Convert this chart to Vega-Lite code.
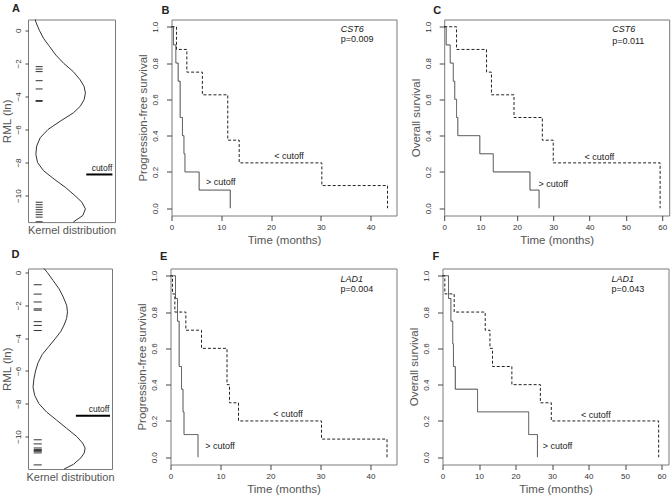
{
  "$schema": "https://vega.github.io/schema/vega-lite/v6.json",
  "background": "white",
  "padding": {"left": 1, "top": 1.5, "right": 1, "bottom": 2},
  "datasets": {
    "km": [
      {"p": "B", "g": "hi", "t": 0, "s": 1}, {"p": "B", "g": "hi", "t": 0.4, "s": 0.9}, {"p": "B", "g": "hi", "t": 0.87, "s": 0.8}, {"p": "B", "g": "hi", "t": 1.34, "s": 0.7}, {"p": "B", "g": "hi", "t": 1.74, "s": 0.5}, {"p": "B", "g": "hi", "t": 2.2, "s": 0.4}, {"p": "B", "g": "hi", "t": 2.5, "s": 0.3}, {"p": "B", "g": "hi", "t": 2.7, "s": 0.2}, {"p": "B", "g": "hi", "t": 5.55, "s": 0.1}, {"p": "B", "g": "hi", "t": 11.8, "s": 0},
      {"p": "B", "g": "lo", "t": 0, "s": 1}, {"p": "B", "g": "lo", "t": 1.0, "s": 0.875}, {"p": "B", "g": "lo", "t": 3.08, "s": 0.75}, {"p": "B", "g": "lo", "t": 6.2, "s": 0.625}, {"p": "B", "g": "lo", "t": 11.3, "s": 0.375}, {"p": "B", "g": "lo", "t": 13.6, "s": 0.25}, {"p": "B", "g": "lo", "t": 30.2, "s": 0.125}, {"p": "B", "g": "lo", "t": 43.4, "s": 0},
      {"p": "C", "g": "hi", "t": 0, "s": 1}, {"p": "C", "g": "hi", "t": 0.55, "s": 0.9}, {"p": "C", "g": "hi", "t": 1.65, "s": 0.8}, {"p": "C", "g": "hi", "t": 2.5, "s": 0.7}, {"p": "C", "g": "hi", "t": 2.9, "s": 0.6}, {"p": "C", "g": "hi", "t": 3.4, "s": 0.5}, {"p": "C", "g": "hi", "t": 3.75, "s": 0.4}, {"p": "C", "g": "hi", "t": 9.8, "s": 0.3}, {"p": "C", "g": "hi", "t": 13.5, "s": 0.2}, {"p": "C", "g": "hi", "t": 23.6, "s": 0.1}, {"p": "C", "g": "hi", "t": 26.1, "s": 0},
      {"p": "C", "g": "lo", "t": 0, "s": 1}, {"p": "C", "g": "lo", "t": 3.4, "s": 0.875}, {"p": "C", "g": "lo", "t": 11.65, "s": 0.75}, {"p": "C", "g": "lo", "t": 13.0, "s": 0.625}, {"p": "C", "g": "lo", "t": 19.2, "s": 0.5}, {"p": "C", "g": "lo", "t": 27.0, "s": 0.375}, {"p": "C", "g": "lo", "t": 30.0, "s": 0.25}, {"p": "C", "g": "lo", "t": 59.4, "s": 0},
      {"p": "E", "g": "hi", "t": 0, "s": 1}, {"p": "E", "g": "hi", "t": 1.0, "s": 0.875}, {"p": "E", "g": "hi", "t": 1.4, "s": 0.75}, {"p": "E", "g": "hi", "t": 1.73, "s": 0.5}, {"p": "E", "g": "hi", "t": 2.2, "s": 0.375}, {"p": "E", "g": "hi", "t": 2.5, "s": 0.25}, {"p": "E", "g": "hi", "t": 2.7, "s": 0.125}, {"p": "E", "g": "hi", "t": 5.5, "s": 0},
      {"p": "E", "g": "lo", "t": 0, "s": 1}, {"p": "E", "g": "lo", "t": 0.4, "s": 0.9}, {"p": "E", "g": "lo", "t": 0.87, "s": 0.8}, {"p": "E", "g": "lo", "t": 3.07, "s": 0.7}, {"p": "E", "g": "lo", "t": 6.2, "s": 0.6}, {"p": "E", "g": "lo", "t": 11.3, "s": 0.4}, {"p": "E", "g": "lo", "t": 11.8, "s": 0.3}, {"p": "E", "g": "lo", "t": 13.6, "s": 0.2}, {"p": "E", "g": "lo", "t": 30.2, "s": 0.1}, {"p": "E", "g": "lo", "t": 43.3, "s": 0},
      {"p": "F", "g": "hi", "t": 0, "s": 1}, {"p": "F", "g": "hi", "t": 1.65, "s": 0.875}, {"p": "F", "g": "hi", "t": 2.3, "s": 0.75}, {"p": "F", "g": "hi", "t": 2.8, "s": 0.625}, {"p": "F", "g": "hi", "t": 3.0, "s": 0.5}, {"p": "F", "g": "hi", "t": 3.5, "s": 0.375}, {"p": "F", "g": "hi", "t": 9.6, "s": 0.25}, {"p": "F", "g": "hi", "t": 23.6, "s": 0.125}, {"p": "F", "g": "hi", "t": 26.0, "s": 0},
      {"p": "F", "g": "lo", "t": 0, "s": 1}, {"p": "F", "g": "lo", "t": 0.64, "s": 0.9}, {"p": "F", "g": "lo", "t": 3.2, "s": 0.8}, {"p": "F", "g": "lo", "t": 11.7, "s": 0.7}, {"p": "F", "g": "lo", "t": 13.0, "s": 0.6}, {"p": "F", "g": "lo", "t": 13.7, "s": 0.5}, {"p": "F", "g": "lo", "t": 19.0, "s": 0.4}, {"p": "F", "g": "lo", "t": 26.8, "s": 0.3}, {"p": "F", "g": "lo", "t": 29.8, "s": 0.2}, {"p": "F", "g": "lo", "t": 59.2, "s": 0}
    ],
    "txt": [
      {"p": "B", "k": "c", "t": 23.6, "s": 0.29, "label": "< cutoff"}, {"p": "B", "k": "c", "t": 9.9, "s": 0.143, "label": "> cutoff"}, {"p": "B", "k": "g", "t": 34.0, "s": 0.99, "label": "CST6"}, {"p": "B", "k": "p", "t": 34.0, "s": 0.93, "label": "p=0.009"},
      {"p": "C", "k": "c", "t": 42.7, "s": 0.285, "label": "< cutoff"}, {"p": "C", "k": "c", "t": 30.0, "s": 0.134, "label": "> cutoff"}, {"p": "C", "k": "g", "t": 46.2, "s": 0.99, "label": "CST6"}, {"p": "C", "k": "p", "t": 46.2, "s": 0.92, "label": "p=0.011"},
      {"p": "E", "k": "c", "t": 23.5, "s": 0.237, "label": "< cutoff"}, {"p": "E", "k": "c", "t": 9.9, "s": 0.064, "label": "> cutoff"}, {"p": "E", "k": "g", "t": 34.0, "s": 0.98, "label": "LAD1"}, {"p": "E", "k": "p", "t": 34.0, "s": 0.925, "label": "p=0.004"},
      {"p": "F", "k": "c", "t": 42.0, "s": 0.235, "label": "< cutoff"}, {"p": "F", "k": "c", "t": 31.5, "s": 0.064, "label": "> cutoff"}, {"p": "F", "k": "g", "t": 46.3, "s": 0.98, "label": "LAD1"}, {"p": "F", "k": "p", "t": 46.3, "s": 0.926, "label": "p=0.043"}
    ],
    "kern": [
      {"p": "A", "v": 0.65, "d": 0.084}, {"p": "A", "v": 0.5, "d": 0.09}, {"p": "A", "v": 0, "d": 0.13}, {"p": "A", "v": -0.5, "d": 0.18}, {"p": "A", "v": -1, "d": 0.25}, {"p": "A", "v": -1.5, "d": 0.32}, {"p": "A", "v": -2, "d": 0.41}, {"p": "A", "v": -2.5, "d": 0.52}, {"p": "A", "v": -3, "d": 0.6}, {"p": "A", "v": -3.4, "d": 0.645}, {"p": "A", "v": -3.8, "d": 0.66}, {"p": "A", "v": -4.2, "d": 0.645}, {"p": "A", "v": -4.6, "d": 0.6}, {"p": "A", "v": -5, "d": 0.52}, {"p": "A", "v": -5.5, "d": 0.37}, {"p": "A", "v": -6, "d": 0.23}, {"p": "A", "v": -6.5, "d": 0.14}, {"p": "A", "v": -7, "d": 0.1}, {"p": "A", "v": -7.5, "d": 0.09}, {"p": "A", "v": -8, "d": 0.11}, {"p": "A", "v": -8.5, "d": 0.18}, {"p": "A", "v": -9, "d": 0.3}, {"p": "A", "v": -9.5, "d": 0.43}, {"p": "A", "v": -10, "d": 0.54}, {"p": "A", "v": -10.4, "d": 0.62}, {"p": "A", "v": -10.8, "d": 0.66}, {"p": "A", "v": -11.2, "d": 0.63}, {"p": "A", "v": -11.6, "d": 0.52},
      {"p": "D", "v": 0.24, "d": 0.19}, {"p": "D", "v": 0, "d": 0.23}, {"p": "D", "v": -0.5, "d": 0.3}, {"p": "D", "v": -1, "d": 0.37}, {"p": "D", "v": -1.5, "d": 0.42}, {"p": "D", "v": -2, "d": 0.46}, {"p": "D", "v": -2.4, "d": 0.47}, {"p": "D", "v": -2.8, "d": 0.46}, {"p": "D", "v": -3.2, "d": 0.43}, {"p": "D", "v": -3.6, "d": 0.39}, {"p": "D", "v": -4, "d": 0.33}, {"p": "D", "v": -4.5, "d": 0.25}, {"p": "D", "v": -5, "d": 0.17}, {"p": "D", "v": -5.5, "d": 0.12}, {"p": "D", "v": -6, "d": 0.09}, {"p": "D", "v": -6.5, "d": 0.07}, {"p": "D", "v": -7, "d": 0.06}, {"p": "D", "v": -7.5, "d": 0.08}, {"p": "D", "v": -8, "d": 0.13}, {"p": "D", "v": -8.5, "d": 0.22}, {"p": "D", "v": -9, "d": 0.34}, {"p": "D", "v": -9.5, "d": 0.46}, {"p": "D", "v": -10, "d": 0.58}, {"p": "D", "v": -10.4, "d": 0.65}, {"p": "D", "v": -10.7, "d": 0.68}, {"p": "D", "v": -11, "d": 0.67}, {"p": "D", "v": -11.3, "d": 0.63}, {"p": "D", "v": -11.7, "d": 0.54}, {"p": "D", "v": -11.98, "d": 0.43}
    ],
    "rug": [
      {"p": "A", "v": -2.2}, {"p": "A", "v": -2.35}, {"p": "A", "v": -2.5}, {"p": "A", "v": -3.05}, {"p": "A", "v": -3.55}, {"p": "A", "v": -4.25}, {"p": "A", "v": -4.3},
      {"p": "A", "v": -10.4}, {"p": "A", "v": -10.55}, {"p": "A", "v": -10.7}, {"p": "A", "v": -10.85}, {"p": "A", "v": -11.0}, {"p": "A", "v": -11.15}, {"p": "A", "v": -11.3}, {"p": "A", "v": -11.58},
      {"p": "D", "v": -0.75}, {"p": "D", "v": -1.32}, {"p": "D", "v": -1.8}, {"p": "D", "v": -2.22}, {"p": "D", "v": -2.3}, {"p": "D", "v": -3.0}, {"p": "D", "v": -3.23}, {"p": "D", "v": -3.54},
      {"p": "D", "v": -10.2}, {"p": "D", "v": -10.45}, {"p": "D", "v": -10.7}, {"p": "D", "v": -10.8}, {"p": "D", "v": -10.85}, {"p": "D", "v": -10.9}, {"p": "D", "v": -11.0}, {"p": "D", "v": -11.73}
    ],
    "cut": [
      {"p": "A", "v": -8.72}, {"p": "D", "v": -8.74}
    ]
  },
  "vconcat": [
    {
      "columns": 2, "align": "none", "spacing": 19.5,
      "concat": [
        {
          "width": 87, "height": 202.6,
          "title": {"text": "A", "offset": 4, "dx": -16},
          "layer": [
            {"data": {"name": "kern"}, "transform": [{"filter": "datum.p === 'A'"}],
             "mark": {"type": "line", "color": "#333", "strokeWidth": 1},
             "encoding": {
               "x": {"field": "d", "type": "quantitative", "scale": {"domain": [0, 1], "nice": false, "zero": false}, "axis": {"title": "Kernel distribution", "labels": false, "ticks": false, "domain": false, "titlePadding": 2, "titleFontSize": 11}},
               "y": {"field": "v", "type": "quantitative", "scale": {"domain": [-11.6, 0.65], "nice": false, "zero": false}, "axis": {"values": [0, -2, -4, -6, -8, -10], "title": "RML (ln)", "tickSize": 3, "labelPadding": 3, "titlePadding": 1.5}},
               "order": {"field": "v", "sort": "descending"}}},
            {"data": {"name": "rug"}, "transform": [{"filter": "datum.p === 'A'"}],
             "mark": {"type": "rule", "color": "#333", "strokeWidth": 1},
             "encoding": {
               "x": {"datum": 0.088, "type": "quantitative", "axis": {"title": "Kernel distribution", "labels": false, "ticks": false, "domain": false, "titlePadding": 2, "titleFontSize": 11}},
               "x2": {"datum": 0.168},
               "y": {"field": "v", "type": "quantitative", "axis": {"values": [0, -2, -4, -6, -8, -10], "title": "RML (ln)", "tickSize": 3, "labelPadding": 3, "titlePadding": 1.5}}}},
            {"data": {"name": "cut"}, "transform": [{"filter": "datum.p === 'A'"}],
             "mark": {"type": "rule", "color": "#000", "strokeWidth": 2},
             "encoding": {
               "x": {"datum": 0.67, "type": "quantitative", "axis": {"title": "Kernel distribution", "labels": false, "ticks": false, "domain": false, "titlePadding": 2, "titleFontSize": 11}},
               "x2": {"datum": 0.97},
               "y": {"field": "v", "type": "quantitative", "axis": {"values": [0, -2, -4, -6, -8, -10], "title": "RML (ln)", "tickSize": 3, "labelPadding": 3, "titlePadding": 1.5}}}},
            {"data": {"name": "cut"}, "transform": [{"filter": "datum.p === 'A'"}],
             "mark": {"type": "text", "text": "cutoff", "fontSize": 8.5, "baseline": "bottom", "align": "center", "dy": -1.5},
             "encoding": {
               "x": {"datum": 0.85, "type": "quantitative", "axis": {"title": "Kernel distribution", "labels": false, "ticks": false, "domain": false, "titlePadding": 2, "titleFontSize": 11}},
               "y": {"field": "v", "type": "quantitative", "axis": {"values": [0, -2, -4, -6, -8, -10], "title": "RML (ln)", "tickSize": 3, "labelPadding": 3, "titlePadding": 1.5}}}}
          ]
        },
        {
          "spacing": 11.7,
          "hconcat": [
            {
              "width": 225, "height": 196,
              "title": {"text": "B", "offset": 4, "dx": -10},
              "encoding": {
                "x": {"field": "t", "type": "quantitative", "scale": {"domain": [0, 45.2], "nice": false, "zero": false}, "axis": {"values": [0, 10, 20, 30, 40], "title": "Time (months)"}},
                "y": {"field": "s", "type": "quantitative", "scale": {"domain": [-0.04, 1.04], "nice": false, "zero": false}, "axis": {"values": [0, 0.2, 0.4, 0.6, 0.8, 1], "format": ".1f", "title": "Progression-free survival"}}
              },
              "layer": [
                {"data": {"name": "km"}, "transform": [{"filter": "datum.p === 'B'"}],
                 "mark": {"type": "line", "interpolate": "step-after", "strokeWidth": 1},
                 "encoding": {
                   "color": {"field": "g", "type": "nominal", "scale": {"domain": ["hi", "lo"], "range": ["#444444", "#222222"]}, "legend": null},
                   "strokeDash": {"field": "g", "type": "nominal", "scale": {"domain": ["hi", "lo"], "range": [[1, 0], [3, 2]]}, "legend": null}}},
                {"data": {"name": "txt"}, "transform": [{"filter": "datum.p === 'B' && datum.k === 'c'"}],
                 "mark": {"type": "text", "align": "center", "baseline": "middle"}, "encoding": {"text": {"field": "label"}}},
                {"data": {"name": "txt"}, "transform": [{"filter": "datum.p === 'B' && datum.k === 'g'"}],
                 "mark": {"type": "text", "align": "left", "baseline": "middle", "fontStyle": "italic"}, "encoding": {"text": {"field": "label"}}},
                {"data": {"name": "txt"}, "transform": [{"filter": "datum.p === 'B' && datum.k === 'p'"}],
                 "mark": {"type": "text", "align": "left", "baseline": "middle"}, "encoding": {"text": {"field": "label"}}}
              ]
            },
            {
              "width": 225, "height": 196,
              "title": {"text": "C", "offset": 4, "dx": -11},
              "encoding": {
                "x": {"field": "t", "type": "quantitative", "scale": {"domain": [0, 61.9], "nice": false, "zero": false}, "axis": {"values": [0, 10, 20, 30, 40, 50, 60], "title": "Time (months)"}},
                "y": {"field": "s", "type": "quantitative", "scale": {"domain": [-0.04, 1.04], "nice": false, "zero": false}, "axis": {"values": [0, 0.2, 0.4, 0.6, 0.8, 1], "format": ".1f", "title": "Overall survival"}}
              },
              "layer": [
                {"data": {"name": "km"}, "transform": [{"filter": "datum.p === 'C'"}],
                 "mark": {"type": "line", "interpolate": "step-after", "strokeWidth": 1},
                 "encoding": {
                   "color": {"field": "g", "type": "nominal", "scale": {"domain": ["hi", "lo"], "range": ["#444444", "#222222"]}, "legend": null},
                   "strokeDash": {"field": "g", "type": "nominal", "scale": {"domain": ["hi", "lo"], "range": [[1, 0], [3, 2]]}, "legend": null}}},
                {"data": {"name": "txt"}, "transform": [{"filter": "datum.p === 'C' && datum.k === 'c'"}],
                 "mark": {"type": "text", "align": "center", "baseline": "middle"}, "encoding": {"text": {"field": "label"}}},
                {"data": {"name": "txt"}, "transform": [{"filter": "datum.p === 'C' && datum.k === 'g'"}],
                 "mark": {"type": "text", "align": "left", "baseline": "middle", "fontStyle": "italic"}, "encoding": {"text": {"field": "label"}}},
                {"data": {"name": "txt"}, "transform": [{"filter": "datum.p === 'C' && datum.k === 'p'"}],
                 "mark": {"type": "text", "align": "left", "baseline": "middle"}, "encoding": {"text": {"field": "label"}}}
              ]
            }
          ]
        }
      ]
    },
    {
      "columns": 2, "align": "none", "spacing": 20.5,
      "concat": [
        {
          "width": 84, "height": 200.5,
          "title": {"text": "D", "offset": 6.5, "dx": -16.5},
          "layer": [
            {"data": {"name": "kern"}, "transform": [{"filter": "datum.p === 'D'"}],
             "mark": {"type": "line", "color": "#333", "strokeWidth": 1},
             "encoding": {
               "x": {"field": "d", "type": "quantitative", "scale": {"domain": [0, 1], "nice": false, "zero": false}, "axis": {"title": "Kernel distribution", "labels": false, "ticks": false, "domain": false, "titlePadding": 2, "titleFontSize": 11}},
               "y": {"field": "v", "type": "quantitative", "scale": {"domain": [-11.98, 0.24], "nice": false, "zero": false}, "axis": {"values": [0, -2, -4, -6, -8, -10], "title": "RML (ln)", "tickSize": 3, "labelPadding": 3, "titlePadding": 1.5}},
               "order": {"field": "v", "sort": "descending"}}},
            {"data": {"name": "rug"}, "transform": [{"filter": "datum.p === 'D'"}],
             "mark": {"type": "rule", "color": "#333", "strokeWidth": 1},
             "encoding": {
               "x": {"datum": 0.068, "type": "quantitative", "axis": {"title": "Kernel distribution", "labels": false, "ticks": false, "domain": false, "titlePadding": 2, "titleFontSize": 11}},
               "x2": {"datum": 0.164},
               "y": {"field": "v", "type": "quantitative", "axis": {"values": [0, -2, -4, -6, -8, -10], "title": "RML (ln)", "tickSize": 3, "labelPadding": 3, "titlePadding": 1.5}}}},
            {"data": {"name": "cut"}, "transform": [{"filter": "datum.p === 'D'"}],
             "mark": {"type": "rule", "color": "#000", "strokeWidth": 2},
             "encoding": {
               "x": {"datum": 0.57, "type": "quantitative", "axis": {"title": "Kernel distribution", "labels": false, "ticks": false, "domain": false, "titlePadding": 2, "titleFontSize": 11}},
               "x2": {"datum": 0.976},
               "y": {"field": "v", "type": "quantitative", "axis": {"values": [0, -2, -4, -6, -8, -10], "title": "RML (ln)", "tickSize": 3, "labelPadding": 3, "titlePadding": 1.5}}}},
            {"data": {"name": "cut"}, "transform": [{"filter": "datum.p === 'D'"}],
             "mark": {"type": "text", "text": "cutoff", "fontSize": 8.5, "baseline": "bottom", "align": "center", "dy": -1.5},
             "encoding": {
               "x": {"datum": 0.845, "type": "quantitative", "axis": {"title": "Kernel distribution", "labels": false, "ticks": false, "domain": false, "titlePadding": 2, "titleFontSize": 11}},
               "y": {"field": "v", "type": "quantitative", "axis": {"values": [0, -2, -4, -6, -8, -10], "title": "RML (ln)", "tickSize": 3, "labelPadding": 3, "titlePadding": 1.5}}}}
          ]
        },
        {
          "spacing": 10,
          "hconcat": [
            {
              "width": 226, "height": 196,
              "title": {"text": "E", "offset": 6.5, "dx": -10.5},
              "encoding": {
                "x": {"field": "t", "type": "quantitative", "scale": {"domain": [0, 45.2], "nice": false, "zero": false}, "axis": {"values": [0, 10, 20, 30, 40], "title": "Time (months)"}},
                "y": {"field": "s", "type": "quantitative", "scale": {"domain": [-0.04, 1.04], "nice": false, "zero": false}, "axis": {"values": [0, 0.2, 0.4, 0.6, 0.8, 1], "format": ".1f", "title": "Progression-free survival"}}
              },
              "layer": [
                {"data": {"name": "km"}, "transform": [{"filter": "datum.p === 'E'"}],
                 "mark": {"type": "line", "interpolate": "step-after", "strokeWidth": 1},
                 "encoding": {
                   "color": {"field": "g", "type": "nominal", "scale": {"domain": ["hi", "lo"], "range": ["#444444", "#222222"]}, "legend": null},
                   "strokeDash": {"field": "g", "type": "nominal", "scale": {"domain": ["hi", "lo"], "range": [[1, 0], [3, 2]]}, "legend": null}}},
                {"data": {"name": "txt"}, "transform": [{"filter": "datum.p === 'E' && datum.k === 'c'"}],
                 "mark": {"type": "text", "align": "center", "baseline": "middle"}, "encoding": {"text": {"field": "label"}}},
                {"data": {"name": "txt"}, "transform": [{"filter": "datum.p === 'E' && datum.k === 'g'"}],
                 "mark": {"type": "text", "align": "left", "baseline": "middle", "fontStyle": "italic"}, "encoding": {"text": {"field": "label"}}},
                {"data": {"name": "txt"}, "transform": [{"filter": "datum.p === 'E' && datum.k === 'p'"}],
                 "mark": {"type": "text", "align": "left", "baseline": "middle"}, "encoding": {"text": {"field": "label"}}}
              ]
            },
            {
              "width": 226, "height": 196,
              "title": {"text": "F", "offset": 6.5, "dx": -10},
              "encoding": {
                "x": {"field": "t", "type": "quantitative", "scale": {"domain": [0, 61.9], "nice": false, "zero": false}, "axis": {"values": [0, 10, 20, 30, 40, 50, 60], "title": "Time (months)"}},
                "y": {"field": "s", "type": "quantitative", "scale": {"domain": [-0.04, 1.04], "nice": false, "zero": false}, "axis": {"values": [0, 0.2, 0.4, 0.6, 0.8, 1], "format": ".1f", "title": "Overall survival"}}
              },
              "layer": [
                {"data": {"name": "km"}, "transform": [{"filter": "datum.p === 'F'"}],
                 "mark": {"type": "line", "interpolate": "step-after", "strokeWidth": 1},
                 "encoding": {
                   "color": {"field": "g", "type": "nominal", "scale": {"domain": ["hi", "lo"], "range": ["#444444", "#222222"]}, "legend": null},
                   "strokeDash": {"field": "g", "type": "nominal", "scale": {"domain": ["hi", "lo"], "range": [[1, 0], [3, 2]]}, "legend": null}}},
                {"data": {"name": "txt"}, "transform": [{"filter": "datum.p === 'F' && datum.k === 'c'"}],
                 "mark": {"type": "text", "align": "center", "baseline": "middle"}, "encoding": {"text": {"field": "label"}}},
                {"data": {"name": "txt"}, "transform": [{"filter": "datum.p === 'F' && datum.k === 'g'"}],
                 "mark": {"type": "text", "align": "left", "baseline": "middle", "fontStyle": "italic"}, "encoding": {"text": {"field": "label"}}},
                {"data": {"name": "txt"}, "transform": [{"filter": "datum.p === 'F' && datum.k === 'p'"}],
                 "mark": {"type": "text", "align": "left", "baseline": "middle"}, "encoding": {"text": {"field": "label"}}}
              ]
            }
          ]
        }
      ]
    }
  ],
  "spacing": 2,
  "config": {
    "font": "Liberation Sans",
    "view": {"stroke": "#7a7a7a", "strokeWidth": 1},
    "axis": {"grid": false, "domain": false, "labelFont": "Liberation Sans", "labelFontSize": 8, "labelColor": "#333", "titleFont": "Liberation Sans", "titleFontSize": 11.5, "titleFontWeight": "normal", "titleColor": "#555", "tickColor": "#444", "tickSize": 5, "labelPadding": 3, "labelFlush": false, "labelOverlap": false},
    "axisY": {"labelAngle": 270, "labelAlign": "center", "labelBaseline": "bottom", "labelPadding": 7, "titlePadding": 3, "titleFontWeight": "normal"},
    "axisX": {"titlePadding": 3, "titleFontWeight": "normal"},
    "title": {"font": "Liberation Sans", "fontSize": 11, "fontWeight": "bold", "anchor": "start", "frame": "group", "color": "#222"},
    "text": {"font": "Liberation Sans", "fontSize": 9, "color": "#222"}
  }
}
